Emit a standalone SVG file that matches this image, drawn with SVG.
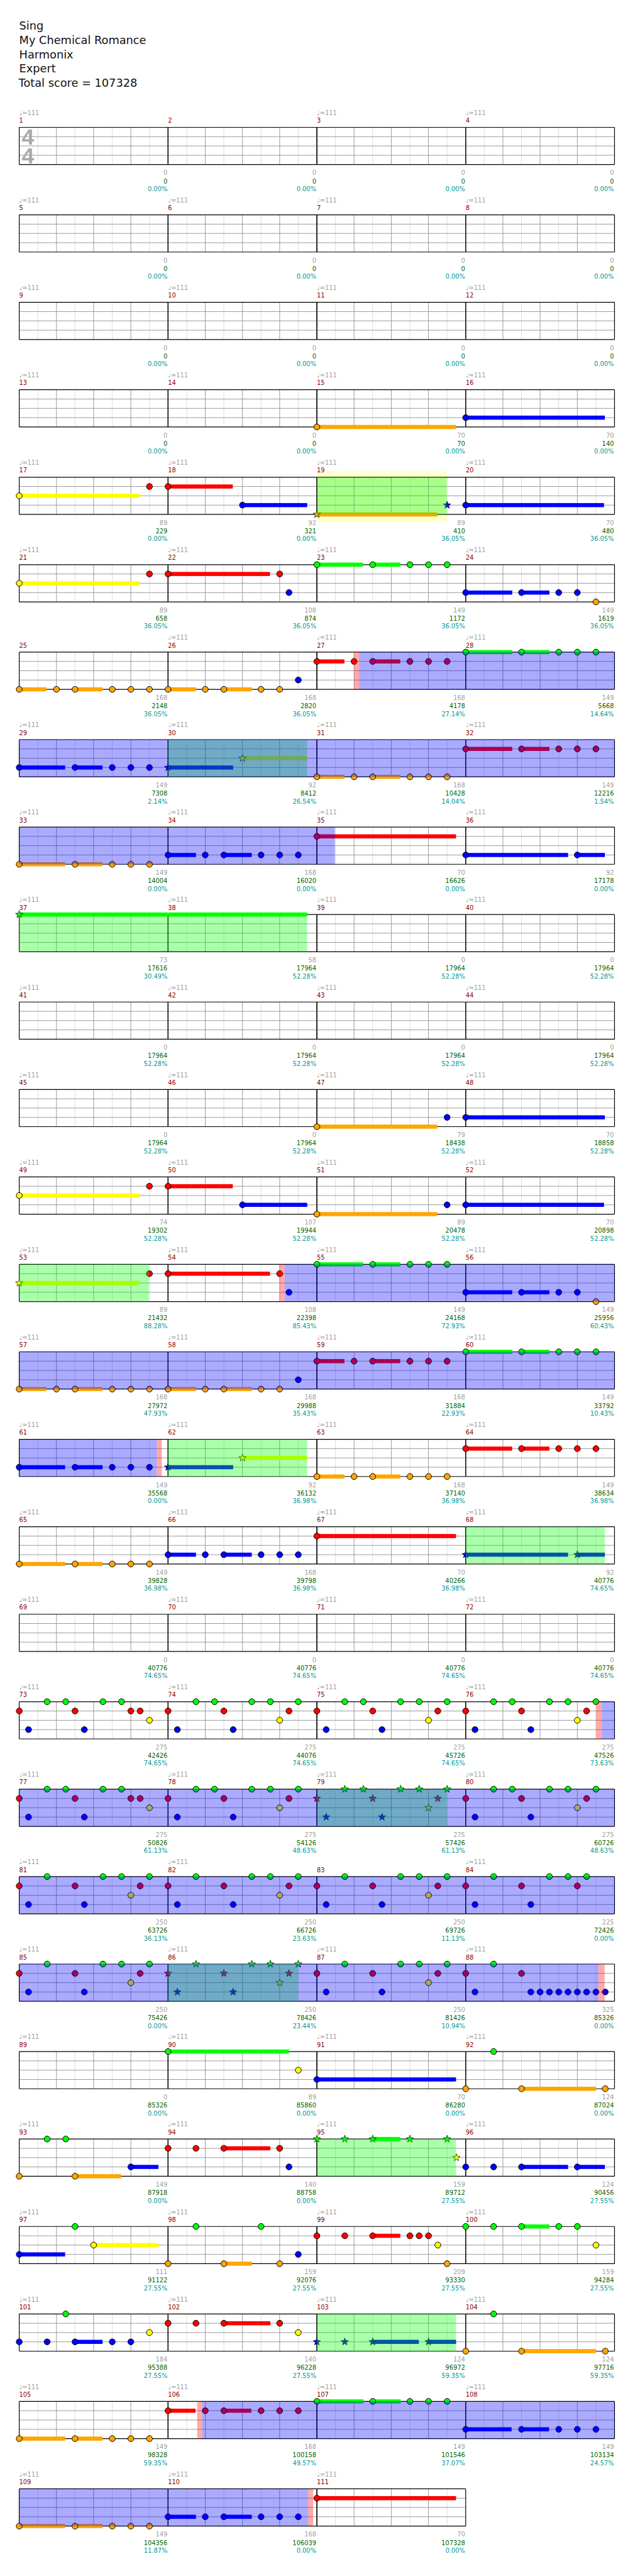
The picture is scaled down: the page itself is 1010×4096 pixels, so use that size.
<svg xmlns="http://www.w3.org/2000/svg" width="1010" height="4096" viewBox="0 0 1010 4096">
<defs>
<style>
text{font-family:"DejaVu Sans",sans-serif;font-size:10px}
.hd{font-size:18px;fill:#111}
.ts{font-family:"Liberation Sans",sans-serif;font-size:36px;font-weight:bold;fill:#aaaaaa}
.t{fill:#a0a0a0}
.mn{fill:#8b0000}
.g{fill:#a0a0a0;text-anchor:end}
.s{fill:#006400;text-anchor:end}
.p{fill:#009999;text-anchor:end}
.kG{fill:#00ff00}.kR{fill:#ff0000}.kY{fill:#ffff00}.kB{fill:#0000ff}.kO{fill:#ffa500}
.sp{fill:#00ff00;fill-opacity:.333}
.od{fill:#0000ff;fill-opacity:.333}
.pk{fill:#ff0000;fill-opacity:.333}
.yb{fill:#ffffcc}
</style>
<g id="M">
<path d="M30 0V60M90 0V60M150 0V60M210 0V60" stroke="#dddddd" stroke-width="1"/>
<path d="M60 0V60M120 0V60M180 0V60M0 15H240M0 30H240M0 45H240" stroke="#999999" stroke-width="1"/>
<path d="M0 0V60M240 0V60M0 0H240M0 60H240" stroke="#000" stroke-width="1.2" fill="none"/>
</g>
<circle id="n" r="4.8" stroke="#000" stroke-width="1"/>
<path id="st" d="M0,-6.3L1.53,-2.1L6,-1.95L2.48,0.81L3.7,5.1L0,2.6L-3.7,5.1L-2.48,0.81L-6,-1.95L-1.53,-2.1Z" stroke="#000" stroke-width="0.7"/>
</defs>
<rect width="1010" height="4096" fill="#fff"/>
<g transform="scale(0.98633)">
<g id="header">
<text class="hd" x="31" y="48">Sing</text>
<text class="hd" x="31" y="71">My Chemical Romance</text>
<text class="hd" x="31" y="94">Harmonix</text>
<text class="hd" x="31" y="117">Expert</text>
<text class="hd" x="30" y="140">Total score = 107328</text>
</g>

<!-- Row 1 -->
<g id="row1" transform="translate(0,205.3)">
<g id="m1" transform="translate(31,0)"><use href="#M"/><text class="ts"><tspan x="4" y="28">4</tspan><tspan x="4" y="58">4</tspan></text><text class="t" y="-20">♩=111</text><text class="mn" y="-7.5">1</text><text class="g" x="239" y="77">0</text><text class="s" x="239" y="90.3">0</text><text class="p" x="239" y="103">0.00%</text></g>
<g id="m2" transform="translate(271,0)"><use href="#M"/><text class="mn" y="-7.5">2</text><text class="g" x="239" y="77">0</text><text class="s" x="239" y="90.3">0</text><text class="p" x="239" y="103">0.00%</text></g>
<g id="m3" transform="translate(511,0)"><use href="#M"/><text class="t" y="-20">♩=111</text><text class="mn" y="-7.5">3</text><text class="g" x="239" y="77">0</text><text class="s" x="239" y="90.3">0</text><text class="p" x="239" y="103">0.00%</text></g>
<g id="m4" transform="translate(751,0)"><use href="#M"/><text class="t" y="-20">♩=111</text><text class="mn" y="-7.5">4</text><text class="g" x="239" y="77">0</text><text class="s" x="239" y="90.3">0</text><text class="p" x="239" y="103">0.00%</text></g>
</g>

<!-- Row 2 -->
<g id="row2" transform="translate(0,346.3)">
<g id="m5" transform="translate(31,0)"><use href="#M"/><text class="t" y="-20">♩=111</text><text class="mn" y="-7.5">5</text><text class="g" x="239" y="77">0</text><text class="s" x="239" y="90.3">0</text><text class="p" x="239" y="103">0.00%</text></g>
<g id="m6" transform="translate(271,0)"><use href="#M"/><text class="t" y="-20">♩=111</text><text class="mn" y="-7.5">6</text><text class="g" x="239" y="77">0</text><text class="s" x="239" y="90.3">0</text><text class="p" x="239" y="103">0.00%</text></g>
<g id="m7" transform="translate(511,0)"><use href="#M"/><text class="t" y="-20">♩=111</text><text class="mn" y="-7.5">7</text><text class="g" x="239" y="77">0</text><text class="s" x="239" y="90.3">0</text><text class="p" x="239" y="103">0.00%</text></g>
<g id="m8" transform="translate(751,0)"><use href="#M"/><text class="t" y="-20">♩=111</text><text class="mn" y="-7.5">8</text><text class="g" x="239" y="77">0</text><text class="s" x="239" y="90.3">0</text><text class="p" x="239" y="103">0.00%</text></g>
</g>

<!-- Row 3 -->
<g id="row3" transform="translate(0,487.3)">
<g id="m9" transform="translate(31,0)"><use href="#M"/><text class="t" y="-20">♩=111</text><text class="mn" y="-7.5">9</text><text class="g" x="239" y="77">0</text><text class="s" x="239" y="90.3">0</text><text class="p" x="239" y="103">0.00%</text></g>
<g id="m10" transform="translate(271,0)"><use href="#M"/><text class="t" y="-20">♩=111</text><text class="mn" y="-7.5">10</text><text class="g" x="239" y="77">0</text><text class="s" x="239" y="90.3">0</text><text class="p" x="239" y="103">0.00%</text></g>
<g id="m11" transform="translate(511,0)"><use href="#M"/><text class="t" y="-20">♩=111</text><text class="mn" y="-7.5">11</text><text class="g" x="239" y="77">0</text><text class="s" x="239" y="90.3">0</text><text class="p" x="239" y="103">0.00%</text></g>
<g id="m12" transform="translate(751,0)"><use href="#M"/><text class="t" y="-20">♩=111</text><text class="mn" y="-7.5">12</text><text class="g" x="239" y="77">0</text><text class="s" x="239" y="90.3">0</text><text class="p" x="239" y="103">0.00%</text></g>
</g>

<!-- Row 4 -->
<g id="row4" transform="translate(0,628.3)">
<g id="m13" transform="translate(31,0)"><use href="#M"/><text class="t" y="-20">♩=111</text><text class="mn" y="-7.5">13</text><text class="g" x="239" y="77">0</text><text class="s" x="239" y="90.3">0</text><text class="p" x="239" y="103">0.00%</text></g>
<g id="m14" transform="translate(271,0)"><use href="#M"/><text class="t" y="-20">♩=111</text><text class="mn" y="-7.5">14</text><text class="g" x="239" y="77">0</text><text class="s" x="239" y="90.3">0</text><text class="p" x="239" y="103">0.00%</text></g>
<g id="m15" transform="translate(511,0)"><use href="#M"/><text class="t" y="-20">♩=111</text><text class="mn" y="-7.5">15</text><text class="g" x="239" y="77">70</text><text class="s" x="239" y="90.3">70</text><text class="p" x="239" y="103">0.00%</text></g>
<g id="m16" transform="translate(751,0)"><use href="#M"/><text class="t" y="-20">♩=111</text><text class="mn" y="-7.5">16</text><text class="g" x="239" y="77">70</text><text class="s" x="239" y="90.3">140</text><text class="p" x="239" y="103">0.00%</text></g>
<g id="n4">
<g transform="translate(511,0)"><rect class="kO" y="56.7" width="224.4" height="6.6"/><use href="#n" class="kO" y="60"/></g>
<g transform="translate(751,0)"><rect class="kB" y="41.7" width="224.4" height="6.6"/><use href="#n" class="kB" y="45"/></g>
</g>
</g>

<!-- Row 5 -->
<g id="row5" transform="translate(0,769.3)">
<rect class="yb" x="511" y="-10" width="209.4" height="82"/>
<g id="m17" transform="translate(31,0)"><use href="#M"/><text class="t" y="-20">♩=111</text><text class="mn" y="-7.5">17</text><text class="g" x="239" y="77">89</text><text class="s" x="239" y="90.3">229</text><text class="p" x="239" y="103">0.00%</text></g>
<g id="m18" transform="translate(271,0)"><use href="#M"/><text class="t" y="-20">♩=111</text><text class="mn" y="-7.5">18</text><text class="g" x="239" y="77">92</text><text class="s" x="239" y="90.3">321</text><text class="p" x="239" y="103">0.00%</text></g>
<g id="m19" transform="translate(511,0)"><use href="#M"/><text class="t" y="-20">♩=111</text><text class="mn" y="-7.5">19</text><text class="g" x="239" y="77">89</text><text class="s" x="239" y="90.3">410</text><text class="p" x="239" y="103">36.05%</text></g>
<g id="m20" transform="translate(751,0)"><use href="#M"/><text class="t" y="-20">♩=111</text><text class="mn" y="-7.5">20</text><text class="g" x="239" y="77">70</text><text class="s" x="239" y="90.3">480</text><text class="p" x="239" y="103">36.05%</text></g>
<g id="n5">
<g transform="translate(31,0)"><rect class="kY" y="26.7" width="194.4" height="6.6"/><use href="#n" class="kY" y="30"/><use href="#n" class="kR" x="210" y="15"/></g>
<g transform="translate(271,0)"><rect class="kR" y="11.7" width="104.4" height="6.6"/><rect class="kB" x="120" y="41.7" width="104.4" height="6.6"/><use href="#n" class="kR" y="15"/><use href="#n" class="kB" x="120" y="45"/></g>
<g transform="translate(511,0)"><rect class="kO" y="56.7" width="194" height="6.6"/><use href="#st" class="kO" y="60"/><use href="#st" class="kB" x="210" y="45"/></g>
<g transform="translate(751,0)"><rect class="kB" y="41.7" width="223" height="6.6"/><use href="#n" class="kB" y="45"/></g>
</g>
<g id="h5"><rect class="sp" x="511" width="209.4" height="60"/></g>
</g>

<!-- Row 6 -->
<g id="row6" transform="translate(0,910.3)">
<g id="m21" transform="translate(31,0)"><use href="#M"/><text class="t" y="-20">♩=111</text><text class="mn" y="-7.5">21</text><text class="g" x="239" y="77">89</text><text class="s" x="239" y="90.3">658</text><text class="p" x="239" y="103">36.05%</text></g>
<g id="m22" transform="translate(271,0)"><use href="#M"/><text class="t" y="-20">♩=111</text><text class="mn" y="-7.5">22</text><text class="g" x="239" y="77">108</text><text class="s" x="239" y="90.3">874</text><text class="p" x="239" y="103">36.05%</text></g>
<g id="m23" transform="translate(511,0)"><use href="#M"/><text class="t" y="-20">♩=111</text><text class="mn" y="-7.5">23</text><text class="g" x="239" y="77">149</text><text class="s" x="239" y="90.3">1172</text><text class="p" x="239" y="103">36.05%</text></g>
<g id="m24" transform="translate(751,0)"><use href="#M"/><text class="t" y="-20">♩=111</text><text class="mn" y="-7.5">24</text><text class="g" x="239" y="77">149</text><text class="s" x="239" y="90.3">1619</text><text class="p" x="239" y="103">36.05%</text></g>
<g id="n6">
<g transform="translate(31,0)"><rect class="kY" y="26.7" width="194" height="6.6"/><use href="#n" class="kY" y="30"/><use href="#n" class="kR" x="210" y="15"/></g>
<g transform="translate(271,0)"><rect class="kR" y="11.7" width="164.4" height="6.6"/><use href="#n" class="kR" y="15"/><use href="#n" class="kR" x="180" y="15"/><use href="#n" class="kB" x="195" y="45"/></g>
<g transform="translate(511,0)"><rect class="kG" y="-3.3" width="74.4" height="6.6"/><rect class="kG" x="90" y="-3.3" width="44.4" height="6.6"/><use href="#n" class="kG"/><use href="#n" class="kG" x="90"/><use href="#n" class="kG" x="150"/><use href="#n" class="kG" x="180"/><use href="#n" class="kG" x="210"/></g>
<g transform="translate(751,0)"><rect class="kB" y="41.7" width="75" height="6.6"/><rect class="kB" x="90" y="41.7" width="45" height="6.6"/><use href="#n" class="kB" y="45"/><use href="#n" class="kB" x="90" y="45"/><use href="#n" class="kB" x="150" y="45"/><use href="#n" class="kB" x="180" y="45"/><use href="#n" class="kO" x="210" y="60"/></g>
</g>
</g>

<!-- Row 7 -->
<g id="row7" transform="translate(0,1051.3)">
<g id="m25" transform="translate(31,0)"><use href="#M"/><text class="mn" y="-7.5">25</text><text class="g" x="239" y="77">168</text><text class="s" x="239" y="90.3">2148</text><text class="p" x="239" y="103">36.05%</text></g>
<g id="m26" transform="translate(271,0)"><use href="#M"/><text class="t" y="-20">♩=111</text><text class="mn" y="-7.5">26</text><text class="g" x="239" y="77">168</text><text class="s" x="239" y="90.3">2820</text><text class="p" x="239" y="103">36.05%</text></g>
<g id="m27" transform="translate(511,0)"><use href="#M"/><text class="t" y="-20">♩=111</text><text class="mn" y="-7.5">27</text><text class="g" x="239" y="77">168</text><text class="s" x="239" y="90.3">4178</text><text class="p" x="239" y="103">27.14%</text></g>
<g id="m28" transform="translate(751,0)"><use href="#M"/><text class="t" y="-20">♩=111</text><text class="mn" y="-7.5">28</text><text class="g" x="239" y="77">149</text><text class="s" x="239" y="90.3">5668</text><text class="p" x="239" y="103">14.64%</text></g>
<g id="n7">
<g transform="translate(31,0)"><rect class="kO" y="56.7" width="44" height="6.6"/><rect class="kO" x="90" y="56.7" width="44.4" height="6.6"/><use href="#n" class="kO" y="60"/><use href="#n" class="kO" x="60" y="60"/><use href="#n" class="kO" x="90" y="60"/><use href="#n" class="kO" x="150" y="60"/><use href="#n" class="kO" x="180" y="60"/><use href="#n" class="kO" x="210" y="60"/></g>
<g transform="translate(271,0)"><rect class="kO" y="56.7" width="45" height="6.6"/><rect class="kO" x="90" y="56.7" width="45" height="6.6"/><use href="#n" class="kO" y="60"/><use href="#n" class="kO" x="60" y="60"/><use href="#n" class="kO" x="90" y="60"/><use href="#n" class="kO" x="150" y="60"/><use href="#n" class="kO" x="180" y="60"/><use href="#n" class="kB" x="210" y="45"/></g>
<g transform="translate(511,0)"><rect class="kR" y="11.7" width="44.4" height="6.6"/><rect class="kR" x="90" y="11.7" width="44.4" height="6.6"/><use href="#n" class="kR" y="15"/><use href="#n" class="kR" x="60" y="15"/><use href="#n" class="kR" x="90" y="15"/><use href="#n" class="kR" x="150" y="15"/><use href="#n" class="kR" x="180" y="15"/><use href="#n" class="kR" x="210" y="15"/></g>
<g transform="translate(751,0)"><rect class="kG" y="-3.3" width="75" height="6.6"/><rect class="kG" x="90" y="-3.3" width="45" height="6.6"/><use href="#n" class="kG"/><use href="#n" class="kG" x="90"/><use href="#n" class="kG" x="150"/><use href="#n" class="kG" x="180"/><use href="#n" class="kG" x="210"/></g>
</g>
<g id="h7"><rect class="pk" x="571" width="8" height="60"/><rect class="od" x="579" width="412" height="60"/></g>
</g>

<!-- Row 8 -->
<g id="row8" transform="translate(0,1192.3)">
<g id="m29" transform="translate(31,0)"><use href="#M"/><text class="t" y="-20">♩=111</text><text class="mn" y="-7.5">29</text><text class="g" x="239" y="77">149</text><text class="s" x="239" y="90.3">7308</text><text class="p" x="239" y="103">2.14%</text></g>
<g id="m30" transform="translate(271,0)"><use href="#M"/><text class="t" y="-20">♩=111</text><text class="mn" y="-7.5">30</text><text class="g" x="239" y="77">92</text><text class="s" x="239" y="90.3">8412</text><text class="p" x="239" y="103">26.54%</text></g>
<g id="m31" transform="translate(511,0)"><use href="#M"/><text class="t" y="-20">♩=111</text><text class="mn" y="-7.5">31</text><text class="g" x="239" y="77">168</text><text class="s" x="239" y="90.3">10428</text><text class="p" x="239" y="103">14.04%</text></g>
<g id="m32" transform="translate(751,0)"><use href="#M"/><text class="t" y="-20">♩=111</text><text class="mn" y="-7.5">32</text><text class="g" x="239" y="77">149</text><text class="s" x="239" y="90.3">12216</text><text class="p" x="239" y="103">1.54%</text></g>
<g id="n8">
<g transform="translate(31,0)"><rect class="kB" y="41.7" width="74" height="6.6"/><rect class="kB" x="90" y="41.7" width="44.4" height="6.6"/><use href="#n" class="kB" y="45"/><use href="#n" class="kB" x="90" y="45"/><use href="#n" class="kB" x="150" y="45"/><use href="#n" class="kB" x="180" y="45"/><use href="#n" class="kB" x="210" y="45"/></g>
<g transform="translate(271,0)"><rect class="kB" y="41.7" width="105" height="6.6"/><rect class="kY" x="120" y="26.7" width="104.4" height="6.6"/><use href="#st" class="kB" y="45"/><use href="#st" class="kY" x="120" y="30"/></g>
<g transform="translate(511,0)"><rect class="kO" y="56.7" width="44.4" height="6.6"/><rect class="kO" x="90" y="56.7" width="44.4" height="6.6"/><use href="#n" class="kO" y="60"/><use href="#n" class="kO" x="60" y="60"/><use href="#n" class="kO" x="90" y="60"/><use href="#n" class="kO" x="150" y="60"/><use href="#n" class="kO" x="180" y="60"/><use href="#n" class="kO" x="210" y="60"/></g>
<g transform="translate(751,0)"><rect class="kR" y="11.7" width="75" height="6.6"/><rect class="kR" x="90" y="11.7" width="45" height="6.6"/><use href="#n" class="kR" y="15"/><use href="#n" class="kR" x="90" y="15"/><use href="#n" class="kR" x="150" y="15"/><use href="#n" class="kR" x="180" y="15"/><use href="#n" class="kR" x="210" y="15"/></g>
</g>
<g id="h8"><rect class="sp" x="271" width="224.4" height="60"/><rect class="od" x="31" width="960" height="60"/></g>
</g>

<!-- Row 9 -->
<g id="row9" transform="translate(0,1333.3)">
<g id="m33" transform="translate(31,0)"><use href="#M"/><text class="t" y="-20">♩=111</text><text class="mn" y="-7.5">33</text><text class="g" x="239" y="77">149</text><text class="s" x="239" y="90.3">14004</text><text class="p" x="239" y="103">0.00%</text></g>
<g id="m34" transform="translate(271,0)"><use href="#M"/><text class="t" y="-20">♩=111</text><text class="mn" y="-7.5">34</text><text class="g" x="239" y="77">168</text><text class="s" x="239" y="90.3">16020</text><text class="p" x="239" y="103">0.00%</text></g>
<g id="m35" transform="translate(511,0)"><use href="#M"/><text class="t" y="-20">♩=111</text><text class="mn" y="-7.5">35</text><text class="g" x="239" y="77">70</text><text class="s" x="239" y="90.3">16626</text><text class="p" x="239" y="103">0.00%</text></g>
<g id="m36" transform="translate(751,0)"><use href="#M"/><text class="t" y="-20">♩=111</text><text class="mn" y="-7.5">36</text><text class="g" x="239" y="77">92</text><text class="s" x="239" y="90.3">17178</text><text class="p" x="239" y="103">0.00%</text></g>
<g id="n9">
<g transform="translate(31,0)"><rect class="kO" y="56.7" width="74" height="6.6"/><rect class="kO" x="90" y="56.7" width="44.4" height="6.6"/><use href="#n" class="kO" y="60"/><use href="#n" class="kO" x="90" y="60"/><use href="#n" class="kO" x="150" y="60"/><use href="#n" class="kO" x="180" y="60"/><use href="#n" class="kO" x="210" y="60"/></g>
<g transform="translate(271,0)"><rect class="kB" y="41.7" width="45" height="6.6"/><rect class="kB" x="90" y="41.7" width="45" height="6.6"/><use href="#n" class="kB" y="45"/><use href="#n" class="kB" x="60" y="45"/><use href="#n" class="kB" x="90" y="45"/><use href="#n" class="kB" x="150" y="45"/><use href="#n" class="kB" x="180" y="45"/><use href="#n" class="kB" x="210" y="45"/></g>
<g transform="translate(511,0)"><rect class="kR" y="11.7" width="224.4" height="6.6"/><use href="#n" class="kR" y="15"/></g>
<g transform="translate(751,0)"><rect class="kB" y="41.7" width="165" height="6.6"/><rect class="kB" x="180" y="41.7" width="44.4" height="6.6"/><use href="#n" class="kB" y="45"/><use href="#n" class="kB" x="180" y="45"/></g>
</g>
<g id="h9"><rect class="od" x="31" width="509" height="60"/></g>
</g>

<!-- Row 10 -->
<g id="row10" transform="translate(0,1474.3)">
<g id="m37" transform="translate(31,0)"><use href="#M"/><text class="t" y="-20">♩=111</text><text class="mn" y="-7.5">37</text><text class="g" x="239" y="77">73</text><text class="s" x="239" y="90.3">17616</text><text class="p" x="239" y="103">30.49%</text></g>
<g id="m38" transform="translate(271,0)"><use href="#M"/><text class="t" y="-20">♩=111</text><text class="mn" y="-7.5">38</text><text class="g" x="239" y="77">58</text><text class="s" x="239" y="90.3">17964</text><text class="p" x="239" y="103">52.28%</text></g>
<g id="m39" transform="translate(511,0)"><use href="#M"/><text class="t" y="-20">♩=111</text><text class="mn" y="-7.5">39</text><text class="g" x="239" y="77">0</text><text class="s" x="239" y="90.3">17964</text><text class="p" x="239" y="103">52.28%</text></g>
<g id="m40" transform="translate(751,0)"><use href="#M"/><text class="t" y="-20">♩=111</text><text class="mn" y="-7.5">40</text><text class="g" x="239" y="77">0</text><text class="s" x="239" y="90.3">17964</text><text class="p" x="239" y="103">52.28%</text></g>
<g id="n10">
<g transform="translate(31,0)"><rect class="kG" y="-3.3" width="240" height="6.6"/><use href="#st" class="kG"/></g>
<g transform="translate(271,0)"><rect class="kG" y="-3.3" width="224.4" height="6.6"/></g>
</g>
<g id="h10"><rect class="sp" x="31" width="464.4" height="60"/></g>
</g>

<!-- Row 11 -->
<g id="row11" transform="translate(0,1615.3)">
<g id="m41" transform="translate(31,0)"><use href="#M"/><text class="t" y="-20">♩=111</text><text class="mn" y="-7.5">41</text><text class="g" x="239" y="77">0</text><text class="s" x="239" y="90.3">17964</text><text class="p" x="239" y="103">52.28%</text></g>
<g id="m42" transform="translate(271,0)"><use href="#M"/><text class="t" y="-20">♩=111</text><text class="mn" y="-7.5">42</text><text class="g" x="239" y="77">0</text><text class="s" x="239" y="90.3">17964</text><text class="p" x="239" y="103">52.28%</text></g>
<g id="m43" transform="translate(511,0)"><use href="#M"/><text class="t" y="-20">♩=111</text><text class="mn" y="-7.5">43</text><text class="g" x="239" y="77">0</text><text class="s" x="239" y="90.3">17964</text><text class="p" x="239" y="103">52.28%</text></g>
<g id="m44" transform="translate(751,0)"><use href="#M"/><text class="t" y="-20">♩=111</text><text class="mn" y="-7.5">44</text><text class="g" x="239" y="77">0</text><text class="s" x="239" y="90.3">17964</text><text class="p" x="239" y="103">52.28%</text></g>
</g>

<!-- Row 12 -->
<g id="row12" transform="translate(0,1756.3)">
<g id="m45" transform="translate(31,0)"><use href="#M"/><text class="t" y="-20">♩=111</text><text class="mn" y="-7.5">45</text><text class="g" x="239" y="77">0</text><text class="s" x="239" y="90.3">17964</text><text class="p" x="239" y="103">52.28%</text></g>
<g id="m46" transform="translate(271,0)"><use href="#M"/><text class="t" y="-20">♩=111</text><text class="mn" y="-7.5">46</text><text class="g" x="239" y="77">0</text><text class="s" x="239" y="90.3">17964</text><text class="p" x="239" y="103">52.28%</text></g>
<g id="m47" transform="translate(511,0)"><use href="#M"/><text class="t" y="-20">♩=111</text><text class="mn" y="-7.5">47</text><text class="g" x="239" y="77">79</text><text class="s" x="239" y="90.3">18438</text><text class="p" x="239" y="103">52.28%</text></g>
<g id="m48" transform="translate(751,0)"><use href="#M"/><text class="t" y="-20">♩=111</text><text class="mn" y="-7.5">48</text><text class="g" x="239" y="77">70</text><text class="s" x="239" y="90.3">18858</text><text class="p" x="239" y="103">52.28%</text></g>
<g id="n12">
<g transform="translate(511,0)"><rect class="kO" y="56.7" width="194" height="6.6"/><use href="#n" class="kO" y="60"/><use href="#n" class="kB" x="210" y="45"/></g>
<g transform="translate(751,0)"><rect class="kB" y="41.7" width="224.4" height="6.6"/><use href="#n" class="kB" y="45"/></g>
</g>
</g>

<!-- Row 13 -->
<g id="row13" transform="translate(0,1897.3)">
<g id="m49" transform="translate(31,0)"><use href="#M"/><text class="t" y="-20">♩=111</text><text class="mn" y="-7.5">49</text><text class="g" x="239" y="77">74</text><text class="s" x="239" y="90.3">19302</text><text class="p" x="239" y="103">52.28%</text></g>
<g id="m50" transform="translate(271,0)"><use href="#M"/><text class="t" y="-20">♩=111</text><text class="mn" y="-7.5">50</text><text class="g" x="239" y="77">107</text><text class="s" x="239" y="90.3">19944</text><text class="p" x="239" y="103">52.28%</text></g>
<g id="m51" transform="translate(511,0)"><use href="#M"/><text class="t" y="-20">♩=111</text><text class="mn" y="-7.5">51</text><text class="g" x="239" y="77">89</text><text class="s" x="239" y="90.3">20478</text><text class="p" x="239" y="103">52.28%</text></g>
<g id="m52" transform="translate(751,0)"><use href="#M"/><text class="t" y="-20">♩=111</text><text class="mn" y="-7.5">52</text><text class="g" x="239" y="77">70</text><text class="s" x="239" y="90.3">20898</text><text class="p" x="239" y="103">52.28%</text></g>
<g id="n13">
<g transform="translate(31,0)"><rect class="kY" y="26.7" width="194.4" height="6.6"/><use href="#n" class="kY" y="30"/><use href="#n" class="kR" x="210" y="15"/></g>
<g transform="translate(271,0)"><rect class="kR" y="11.7" width="104.4" height="6.6"/><rect class="kB" x="120" y="41.7" width="104.4" height="6.6"/><use href="#n" class="kR" y="15"/><use href="#n" class="kB" x="120" y="45"/></g>
<g transform="translate(511,0)"><rect class="kO" y="56.7" width="194" height="6.6"/><use href="#n" class="kO" y="60"/><use href="#n" class="kB" x="210" y="45"/></g>
<g transform="translate(751,0)"><rect class="kB" y="41.7" width="223" height="6.6"/><use href="#n" class="kB" y="45"/></g>
</g>
</g>

<!-- Row 14 -->
<g id="row14" transform="translate(0,2038.3)">
<g id="m53" transform="translate(31,0)"><use href="#M"/><text class="t" y="-20">♩=111</text><text class="mn" y="-7.5">53</text><text class="g" x="239" y="77">89</text><text class="s" x="239" y="90.3">21432</text><text class="p" x="239" y="103">88.28%</text></g>
<g id="m54" transform="translate(271,0)"><use href="#M"/><text class="t" y="-20">♩=111</text><text class="mn" y="-7.5">54</text><text class="g" x="239" y="77">108</text><text class="s" x="239" y="90.3">22398</text><text class="p" x="239" y="103">85.43%</text></g>
<g id="m55" transform="translate(511,0)"><use href="#M"/><text class="t" y="-20">♩=111</text><text class="mn" y="-7.5">55</text><text class="g" x="239" y="77">149</text><text class="s" x="239" y="90.3">24168</text><text class="p" x="239" y="103">72.93%</text></g>
<g id="m56" transform="translate(751,0)"><use href="#M"/><text class="t" y="-20">♩=111</text><text class="mn" y="-7.5">56</text><text class="g" x="239" y="77">149</text><text class="s" x="239" y="90.3">25956</text><text class="p" x="239" y="103">60.43%</text></g>
<g id="n14">
<g transform="translate(31,0)"><rect class="kY" y="26.7" width="194" height="6.6"/><use href="#st" class="kY" y="30"/><use href="#n" class="kR" x="210" y="15"/></g>
<g transform="translate(271,0)"><rect class="kR" y="11.7" width="164.4" height="6.6"/><use href="#n" class="kR" y="15"/><use href="#n" class="kR" x="180" y="15"/><use href="#n" class="kB" x="195" y="45"/></g>
<g transform="translate(511,0)"><rect class="kG" y="-3.3" width="74.4" height="6.6"/><rect class="kG" x="90" y="-3.3" width="44.4" height="6.6"/><use href="#n" class="kG"/><use href="#n" class="kG" x="90"/><use href="#n" class="kG" x="150"/><use href="#n" class="kG" x="180"/><use href="#n" class="kG" x="210"/></g>
<g transform="translate(751,0)"><rect class="kB" y="41.7" width="75" height="6.6"/><rect class="kB" x="90" y="41.7" width="45" height="6.6"/><use href="#n" class="kB" y="45"/><use href="#n" class="kB" x="90" y="45"/><use href="#n" class="kB" x="150" y="45"/><use href="#n" class="kB" x="180" y="45"/><use href="#n" class="kO" x="210" y="60"/></g>
</g>
<g id="h14"><rect class="sp" x="31" width="209" height="60"/><rect class="pk" x="451" width="8" height="60"/><rect class="od" x="459" width="532" height="60"/></g>
</g>

<!-- Row 15 -->
<g id="row15" transform="translate(0,2179.3)">
<g id="m57" transform="translate(31,0)"><use href="#M"/><text class="t" y="-20">♩=111</text><text class="mn" y="-7.5">57</text><text class="g" x="239" y="77">168</text><text class="s" x="239" y="90.3">27972</text><text class="p" x="239" y="103">47.93%</text></g>
<g id="m58" transform="translate(271,0)"><use href="#M"/><text class="t" y="-20">♩=111</text><text class="mn" y="-7.5">58</text><text class="g" x="239" y="77">168</text><text class="s" x="239" y="90.3">29988</text><text class="p" x="239" y="103">35.43%</text></g>
<g id="m59" transform="translate(511,0)"><use href="#M"/><text class="t" y="-20">♩=111</text><text class="mn" y="-7.5">59</text><text class="g" x="239" y="77">168</text><text class="s" x="239" y="90.3">31884</text><text class="p" x="239" y="103">22.93%</text></g>
<g id="m60" transform="translate(751,0)"><use href="#M"/><text class="t" y="-20">♩=111</text><text class="mn" y="-7.5">60</text><text class="g" x="239" y="77">149</text><text class="s" x="239" y="90.3">33792</text><text class="p" x="239" y="103">10.43%</text></g>
<g id="n15">
<g transform="translate(31,0)"><rect class="kO" y="56.7" width="44" height="6.6"/><rect class="kO" x="90" y="56.7" width="44.4" height="6.6"/><use href="#n" class="kO" y="60"/><use href="#n" class="kO" x="60" y="60"/><use href="#n" class="kO" x="90" y="60"/><use href="#n" class="kO" x="150" y="60"/><use href="#n" class="kO" x="180" y="60"/><use href="#n" class="kO" x="210" y="60"/></g>
<g transform="translate(271,0)"><rect class="kO" y="56.7" width="45" height="6.6"/><rect class="kO" x="90" y="56.7" width="45" height="6.6"/><use href="#n" class="kO" y="60"/><use href="#n" class="kO" x="60" y="60"/><use href="#n" class="kO" x="90" y="60"/><use href="#n" class="kO" x="150" y="60"/><use href="#n" class="kO" x="180" y="60"/><use href="#n" class="kB" x="210" y="45"/></g>
<g transform="translate(511,0)"><rect class="kR" y="11.7" width="44.4" height="6.6"/><rect class="kR" x="90" y="11.7" width="44.4" height="6.6"/><use href="#n" class="kR" y="15"/><use href="#n" class="kR" x="60" y="15"/><use href="#n" class="kR" x="90" y="15"/><use href="#n" class="kR" x="150" y="15"/><use href="#n" class="kR" x="180" y="15"/><use href="#n" class="kR" x="210" y="15"/></g>
<g transform="translate(751,0)"><rect class="kG" y="-3.3" width="75" height="6.6"/><rect class="kG" x="90" y="-3.3" width="45" height="6.6"/><use href="#n" class="kG"/><use href="#n" class="kG" x="90"/><use href="#n" class="kG" x="150"/><use href="#n" class="kG" x="180"/><use href="#n" class="kG" x="210"/></g>
</g>
<g id="h15"><rect class="od" x="31" width="960" height="60"/></g>
</g>

<!-- Row 16 -->
<g id="row16" transform="translate(0,2320.3)">
<g id="m61" transform="translate(31,0)"><use href="#M"/><text class="t" y="-20">♩=111</text><text class="mn" y="-7.5">61</text><text class="g" x="239" y="77">149</text><text class="s" x="239" y="90.3">35568</text><text class="p" x="239" y="103">0.00%</text></g>
<g id="m62" transform="translate(271,0)"><use href="#M"/><text class="t" y="-20">♩=111</text><text class="mn" y="-7.5">62</text><text class="g" x="239" y="77">92</text><text class="s" x="239" y="90.3">36132</text><text class="p" x="239" y="103">36.98%</text></g>
<g id="m63" transform="translate(511,0)"><use href="#M"/><text class="t" y="-20">♩=111</text><text class="mn" y="-7.5">63</text><text class="g" x="239" y="77">168</text><text class="s" x="239" y="90.3">37140</text><text class="p" x="239" y="103">36.98%</text></g>
<g id="m64" transform="translate(751,0)"><use href="#M"/><text class="t" y="-20">♩=111</text><text class="mn" y="-7.5">64</text><text class="g" x="239" y="77">149</text><text class="s" x="239" y="90.3">38634</text><text class="p" x="239" y="103">36.98%</text></g>
<g id="n16">
<g transform="translate(31,0)"><rect class="kB" y="41.7" width="74" height="6.6"/><rect class="kB" x="90" y="41.7" width="44.4" height="6.6"/><use href="#n" class="kB" y="45"/><use href="#n" class="kB" x="90" y="45"/><use href="#n" class="kB" x="150" y="45"/><use href="#n" class="kB" x="180" y="45"/><use href="#n" class="kB" x="210" y="45"/></g>
<g transform="translate(271,0)"><rect class="kB" y="41.7" width="105" height="6.6"/><rect class="kY" x="120" y="26.7" width="104.4" height="6.6"/><use href="#st" class="kB" y="45"/><use href="#st" class="kY" x="120" y="30"/></g>
<g transform="translate(511,0)"><rect class="kO" y="56.7" width="44.4" height="6.6"/><rect class="kO" x="90" y="56.7" width="44.4" height="6.6"/><use href="#n" class="kO" y="60"/><use href="#n" class="kO" x="60" y="60"/><use href="#n" class="kO" x="90" y="60"/><use href="#n" class="kO" x="150" y="60"/><use href="#n" class="kO" x="180" y="60"/><use href="#n" class="kO" x="210" y="60"/></g>
<g transform="translate(751,0)"><rect class="kR" y="11.7" width="75" height="6.6"/><rect class="kR" x="90" y="11.7" width="45" height="6.6"/><use href="#n" class="kR" y="15"/><use href="#n" class="kR" x="90" y="15"/><use href="#n" class="kR" x="150" y="15"/><use href="#n" class="kR" x="180" y="15"/><use href="#n" class="kR" x="210" y="15"/></g>
</g>
<g id="h16"><rect class="od" x="31" width="222" height="60"/><rect class="pk" x="253" width="8" height="60"/><rect class="sp" x="271" width="224.4" height="60"/></g>
</g>

<!-- Row 17 -->
<g id="row17" transform="translate(0,2461.3)">
<g id="m65" transform="translate(31,0)"><use href="#M"/><text class="t" y="-20">♩=111</text><text class="mn" y="-7.5">65</text><text class="g" x="239" y="77">149</text><text class="s" x="239" y="90.3">39828</text><text class="p" x="239" y="103">36.98%</text></g>
<g id="m66" transform="translate(271,0)"><use href="#M"/><text class="t" y="-20">♩=111</text><text class="mn" y="-7.5">66</text><text class="g" x="239" y="77">168</text><text class="s" x="239" y="90.3">39798</text><text class="p" x="239" y="103">36.98%</text></g>
<g id="m67" transform="translate(511,0)"><use href="#M"/><text class="t" y="-20">♩=111</text><text class="mn" y="-7.5">67</text><text class="g" x="239" y="77">70</text><text class="s" x="239" y="90.3">40266</text><text class="p" x="239" y="103">36.98%</text></g>
<g id="m68" transform="translate(751,0)"><use href="#M"/><text class="t" y="-20">♩=111</text><text class="mn" y="-7.5">68</text><text class="g" x="239" y="77">92</text><text class="s" x="239" y="90.3">40776</text><text class="p" x="239" y="103">74.65%</text></g>
<g id="n17">
<g transform="translate(31,0)"><rect class="kO" y="56.7" width="74" height="6.6"/><rect class="kO" x="90" y="56.7" width="44.4" height="6.6"/><use href="#n" class="kO" y="60"/><use href="#n" class="kO" x="90" y="60"/><use href="#n" class="kO" x="150" y="60"/><use href="#n" class="kO" x="180" y="60"/><use href="#n" class="kO" x="210" y="60"/></g>
<g transform="translate(271,0)"><rect class="kB" y="41.7" width="45" height="6.6"/><rect class="kB" x="90" y="41.7" width="45" height="6.6"/><use href="#n" class="kB" y="45"/><use href="#n" class="kB" x="60" y="45"/><use href="#n" class="kB" x="90" y="45"/><use href="#n" class="kB" x="150" y="45"/><use href="#n" class="kB" x="180" y="45"/><use href="#n" class="kB" x="210" y="45"/></g>
<g transform="translate(511,0)"><rect class="kR" y="11.7" width="224.4" height="6.6"/><use href="#n" class="kR" y="15"/></g>
<g transform="translate(751,0)"><rect class="kB" y="41.7" width="165" height="6.6"/><rect class="kB" x="180" y="41.7" width="44.4" height="6.6"/><use href="#st" class="kB" y="45"/><use href="#st" class="kB" x="180" y="45"/></g>
</g>
<g id="h17"><rect class="sp" x="751" width="224.4" height="60"/></g>
</g>

<!-- Row 18 -->
<g id="row18" transform="translate(0,2602.3)">
<g id="m69" transform="translate(31,0)"><use href="#M"/><text class="t" y="-20">♩=111</text><text class="mn" y="-7.5">69</text><text class="g" x="239" y="77">0</text><text class="s" x="239" y="90.3">40776</text><text class="p" x="239" y="103">74.65%</text></g>
<g id="m70" transform="translate(271,0)"><use href="#M"/><text class="t" y="-20">♩=111</text><text class="mn" y="-7.5">70</text><text class="g" x="239" y="77">0</text><text class="s" x="239" y="90.3">40776</text><text class="p" x="239" y="103">74.65%</text></g>
<g id="m71" transform="translate(511,0)"><use href="#M"/><text class="t" y="-20">♩=111</text><text class="mn" y="-7.5">71</text><text class="g" x="239" y="77">0</text><text class="s" x="239" y="90.3">40776</text><text class="p" x="239" y="103">74.65%</text></g>
<g id="m72" transform="translate(751,0)"><use href="#M"/><text class="t" y="-20">♩=111</text><text class="mn" y="-7.5">72</text><text class="g" x="239" y="77">0</text><text class="s" x="239" y="90.3">40776</text><text class="p" x="239" y="103">74.65%</text></g>
</g>

<!-- Row 19 -->
<g id="row19" transform="translate(0,2743.3)">
<g id="m73" transform="translate(31,0)"><use href="#M"/><text class="t" y="-20">♩=111</text><text class="mn" y="-7.5">73</text><text class="g" x="239" y="77">275</text><text class="s" x="239" y="90.3">42426</text><text class="p" x="239" y="103">74.65%</text></g>
<g id="m74" transform="translate(271,0)"><use href="#M"/><text class="t" y="-20">♩=111</text><text class="mn" y="-7.5">74</text><text class="g" x="239" y="77">275</text><text class="s" x="239" y="90.3">44076</text><text class="p" x="239" y="103">74.65%</text></g>
<g id="m75" transform="translate(511,0)"><use href="#M"/><text class="t" y="-20">♩=111</text><text class="mn" y="-7.5">75</text><text class="g" x="239" y="77">275</text><text class="s" x="239" y="90.3">45726</text><text class="p" x="239" y="103">74.65%</text></g>
<g id="m76" transform="translate(751,0)"><use href="#M"/><text class="t" y="-20">♩=111</text><text class="mn" y="-7.5">76</text><text class="g" x="239" y="77">275</text><text class="s" x="239" y="90.3">47526</text><text class="p" x="239" y="103">73.63%</text></g>
<g id="n19">
<g transform="translate(31,0)"><use href="#n" class="kR" y="15"/><use href="#n" class="kB" x="15" y="45"/><use href="#n" class="kG" x="45"/><use href="#n" class="kG" x="75"/><use href="#n" class="kR" x="90" y="15"/><use href="#n" class="kB" x="105" y="45"/><use href="#n" class="kG" x="135"/><use href="#n" class="kG" x="165"/><use href="#n" class="kR" x="180" y="15"/><use href="#n" class="kR" x="195" y="15"/><use href="#n" class="kY" x="210" y="30"/></g>
<g transform="translate(271,0)"><use href="#n" class="kR" y="15"/><use href="#n" class="kB" x="15" y="45"/><use href="#n" class="kG" x="45"/><use href="#n" class="kG" x="75"/><use href="#n" class="kR" x="90" y="15"/><use href="#n" class="kB" x="105" y="45"/><use href="#n" class="kG" x="135"/><use href="#n" class="kG" x="165"/><use href="#n" class="kY" x="180" y="30"/><use href="#n" class="kR" x="195" y="15"/><use href="#n" class="kG" x="210"/></g>
<g transform="translate(511,0)"><use href="#n" class="kR" y="15"/><use href="#n" class="kB" x="15" y="45"/><use href="#n" class="kG" x="45"/><use href="#n" class="kG" x="75"/><use href="#n" class="kR" x="90" y="15"/><use href="#n" class="kB" x="105" y="45"/><use href="#n" class="kG" x="135"/><use href="#n" class="kG" x="165"/><use href="#n" class="kY" x="180" y="30"/><use href="#n" class="kR" x="195" y="15"/><use href="#n" class="kG" x="210"/></g>
<g transform="translate(751,0)"><use href="#n" class="kR" y="15"/><use href="#n" class="kB" x="15" y="45"/><use href="#n" class="kG" x="45"/><use href="#n" class="kG" x="75"/><use href="#n" class="kR" x="90" y="15"/><use href="#n" class="kB" x="105" y="45"/><use href="#n" class="kG" x="135"/><use href="#n" class="kG" x="165"/><use href="#n" class="kY" x="180" y="30"/><use href="#n" class="kR" x="195" y="15"/><use href="#n" class="kG" x="210"/></g>
</g>
<g id="h19"><rect class="pk" x="961" width="9.6" height="60"/><rect class="od" x="970.6" width="20.4" height="60"/></g>
</g>

<!-- Row 20 -->
<g id="row20" transform="translate(0,2884.3)">
<g id="m77" transform="translate(31,0)"><use href="#M"/><text class="t" y="-20">♩=111</text><text class="mn" y="-7.5">77</text><text class="g" x="239" y="77">275</text><text class="s" x="239" y="90.3">50826</text><text class="p" x="239" y="103">61.13%</text></g>
<g id="m78" transform="translate(271,0)"><use href="#M"/><text class="t" y="-20">♩=111</text><text class="mn" y="-7.5">78</text><text class="g" x="239" y="77">275</text><text class="s" x="239" y="90.3">54126</text><text class="p" x="239" y="103">48.63%</text></g>
<g id="m79" transform="translate(511,0)"><use href="#M"/><text class="t" y="-20">♩=111</text><text class="mn" y="-7.5">79</text><text class="g" x="239" y="77">275</text><text class="s" x="239" y="90.3">57426</text><text class="p" x="239" y="103">61.13%</text></g>
<g id="m80" transform="translate(751,0)"><use href="#M"/><text class="t" y="-20">♩=111</text><text class="mn" y="-7.5">80</text><text class="g" x="239" y="77">275</text><text class="s" x="239" y="90.3">60726</text><text class="p" x="239" y="103">48.63%</text></g>
<g id="n20">
<g transform="translate(31,0)"><use href="#n" class="kR" y="15"/><use href="#n" class="kB" x="15" y="45"/><use href="#n" class="kG" x="45"/><use href="#n" class="kG" x="75"/><use href="#n" class="kR" x="90" y="15"/><use href="#n" class="kB" x="105" y="45"/><use href="#n" class="kG" x="135"/><use href="#n" class="kG" x="165"/><use href="#n" class="kR" x="180" y="15"/><use href="#n" class="kR" x="195" y="15"/><use href="#n" class="kY" x="210" y="30"/></g>
<g transform="translate(271,0)"><use href="#n" class="kR" y="15"/><use href="#n" class="kB" x="15" y="45"/><use href="#n" class="kG" x="45"/><use href="#n" class="kG" x="75"/><use href="#n" class="kR" x="90" y="15"/><use href="#n" class="kB" x="105" y="45"/><use href="#n" class="kG" x="135"/><use href="#n" class="kG" x="165"/><use href="#n" class="kY" x="180" y="30"/><use href="#n" class="kR" x="195" y="15"/><use href="#n" class="kG" x="210"/></g>
<g transform="translate(511,0)"><use href="#st" class="kR" y="15"/><use href="#st" class="kB" x="15" y="45"/><use href="#st" class="kG" x="45"/><use href="#st" class="kG" x="75"/><use href="#st" class="kR" x="90" y="15"/><use href="#st" class="kB" x="105" y="45"/><use href="#st" class="kG" x="135"/><use href="#st" class="kG" x="165"/><use href="#st" class="kY" x="180" y="30"/><use href="#st" class="kR" x="195" y="15"/><use href="#st" class="kG" x="210"/></g>
<g transform="translate(751,0)"><use href="#n" class="kR" y="15"/><use href="#n" class="kB" x="15" y="45"/><use href="#n" class="kG" x="45"/><use href="#n" class="kG" x="75"/><use href="#n" class="kR" x="90" y="15"/><use href="#n" class="kB" x="105" y="45"/><use href="#n" class="kG" x="135"/><use href="#n" class="kG" x="165"/><use href="#n" class="kY" x="180" y="30"/><use href="#n" class="kR" x="195" y="15"/><use href="#n" class="kG" x="210"/></g>
</g>
<g id="h20"><rect class="sp" x="511" width="210" height="60"/><rect class="od" x="31" width="960" height="60"/></g>
</g>

<!-- Row 21 -->
<g id="row21" transform="translate(0,3025.3)">
<g id="m81" transform="translate(31,0)"><use href="#M"/><text class="t" y="-20">♩=111</text><text class="mn" y="-7.5">81</text><text class="g" x="239" y="77">250</text><text class="s" x="239" y="90.3">63726</text><text class="p" x="239" y="103">36.13%</text></g>
<g id="m82" transform="translate(271,0)"><use href="#M"/><text class="t" y="-20">♩=111</text><text class="mn" y="-7.5">82</text><text class="g" x="239" y="77">250</text><text class="s" x="239" y="90.3">66726</text><text class="p" x="239" y="103">23.63%</text></g>
<g id="m83" transform="translate(511,0)"><use href="#M"/><text class="mn" y="-7.5">83</text><text class="g" x="239" y="77">250</text><text class="s" x="239" y="90.3">69726</text><text class="p" x="239" y="103">11.13%</text></g>
<g id="m84" transform="translate(751,0)"><use href="#M"/><text class="t" y="-20">♩=111</text><text class="mn" y="-7.5">84</text><text class="g" x="239" y="77">225</text><text class="s" x="239" y="90.3">72426</text><text class="p" x="239" y="103">0.00%</text></g>
<g id="n21">
<g transform="translate(31,0)"><use href="#n" class="kR" y="15"/><use href="#n" class="kB" x="15" y="45"/><use href="#n" class="kG" x="45"/><use href="#n" class="kR" x="90" y="15"/><use href="#n" class="kB" x="105" y="45"/><use href="#n" class="kG" x="135"/><use href="#n" class="kG" x="165"/><use href="#n" class="kY" x="180" y="30"/><use href="#n" class="kR" x="195" y="15"/><use href="#n" class="kG" x="210"/></g>
<g transform="translate(271,0)"><use href="#n" class="kR" y="15"/><use href="#n" class="kB" x="15" y="45"/><use href="#n" class="kG" x="45"/><use href="#n" class="kR" x="90" y="15"/><use href="#n" class="kB" x="105" y="45"/><use href="#n" class="kG" x="135"/><use href="#n" class="kG" x="165"/><use href="#n" class="kY" x="180" y="30"/><use href="#n" class="kR" x="195" y="15"/><use href="#n" class="kG" x="210"/></g>
<g transform="translate(511,0)"><use href="#n" class="kR" y="15"/><use href="#n" class="kB" x="15" y="45"/><use href="#n" class="kG" x="45"/><use href="#n" class="kR" x="90" y="15"/><use href="#n" class="kB" x="105" y="45"/><use href="#n" class="kG" x="135"/><use href="#n" class="kG" x="165"/><use href="#n" class="kY" x="180" y="30"/><use href="#n" class="kR" x="195" y="15"/><use href="#n" class="kG" x="210"/></g>
<g transform="translate(751,0)"><use href="#n" class="kR" y="15"/><use href="#n" class="kB" x="15" y="45"/><use href="#n" class="kG" x="45"/><use href="#n" class="kR" x="90" y="15"/><use href="#n" class="kB" x="105" y="45"/><use href="#n" class="kG" x="135"/><use href="#n" class="kG" x="165"/><use href="#n" class="kR" x="180" y="15"/><use href="#n" class="kG" x="195"/></g>
</g>
<g id="h21"><rect class="od" x="31" width="960" height="60"/></g>
</g>

<!-- Row 22 -->
<g id="row22" transform="translate(0,3166.3)">
<g id="m85" transform="translate(31,0)"><use href="#M"/><text class="t" y="-20">♩=111</text><text class="mn" y="-7.5">85</text><text class="g" x="239" y="77">250</text><text class="s" x="239" y="90.3">75426</text><text class="p" x="239" y="103">0.00%</text></g>
<g id="m86" transform="translate(271,0)"><use href="#M"/><text class="t" y="-20">♩=111</text><text class="mn" y="-7.5">86</text><text class="g" x="239" y="77">250</text><text class="s" x="239" y="90.3">78426</text><text class="p" x="239" y="103">23.44%</text></g>
<g id="m87" transform="translate(511,0)"><use href="#M"/><text class="t" y="-20">♩=111</text><text class="mn" y="-7.5">87</text><text class="g" x="239" y="77">250</text><text class="s" x="239" y="90.3">81426</text><text class="p" x="239" y="103">10.94%</text></g>
<g id="m88" transform="translate(751,0)"><use href="#M"/><text class="t" y="-20">♩=111</text><text class="mn" y="-7.5">88</text><text class="g" x="239" y="77">325</text><text class="s" x="239" y="90.3">85326</text><text class="p" x="239" y="103">0.00%</text></g>
<g id="n22">
<g transform="translate(31,0)"><use href="#n" class="kR" y="15"/><use href="#n" class="kB" x="15" y="45"/><use href="#n" class="kG" x="45"/><use href="#n" class="kR" x="90" y="15"/><use href="#n" class="kB" x="105" y="45"/><use href="#n" class="kG" x="135"/><use href="#n" class="kG" x="165"/><use href="#n" class="kY" x="180" y="30"/><use href="#n" class="kR" x="195" y="15"/><use href="#n" class="kG" x="210"/></g>
<g transform="translate(271,0)"><use href="#st" class="kR" y="15"/><use href="#st" class="kB" x="15" y="45"/><use href="#st" class="kG" x="45"/><use href="#st" class="kR" x="90" y="15"/><use href="#st" class="kB" x="105" y="45"/><use href="#st" class="kG" x="135"/><use href="#st" class="kG" x="165"/><use href="#st" class="kY" x="180" y="30"/><use href="#st" class="kR" x="195" y="15"/><use href="#st" class="kG" x="210"/></g>
<g transform="translate(511,0)"><use href="#n" class="kR" y="15"/><use href="#n" class="kB" x="15" y="45"/><use href="#n" class="kG" x="45"/><use href="#n" class="kR" x="90" y="15"/><use href="#n" class="kB" x="105" y="45"/><use href="#n" class="kG" x="135"/><use href="#n" class="kG" x="165"/><use href="#n" class="kY" x="180" y="30"/><use href="#n" class="kR" x="195" y="15"/><use href="#n" class="kG" x="210"/></g>
<g transform="translate(751,0)"><use href="#n" class="kR" y="15"/><use href="#n" class="kB" x="15" y="45"/><use href="#n" class="kG" x="45"/><use href="#n" class="kR" x="90" y="15"/><use href="#n" class="kB" x="105" y="45"/><use href="#n" class="kB" x="120" y="45"/><use href="#n" class="kB" x="135" y="45"/><use href="#n" class="kB" x="150" y="45"/><use href="#n" class="kB" x="165" y="45"/><use href="#n" class="kB" x="180" y="45"/><use href="#n" class="kB" x="195" y="45"/><use href="#n" class="kB" x="210" y="45"/><use href="#n" class="kB" x="225" y="45"/></g>
</g>
<g id="h22"><rect class="sp" x="271" width="210" height="60"/><rect class="od" x="31" width="934" height="60"/><rect class="pk" x="965" width="10" height="60"/></g>
</g>

<!-- Row 23 -->
<g id="row23" transform="translate(0,3307.3)">
<g id="m89" transform="translate(31,0)"><use href="#M"/><text class="t" y="-20">♩=111</text><text class="mn" y="-7.5">89</text><text class="g" x="239" y="77">0</text><text class="s" x="239" y="90.3">85326</text><text class="p" x="239" y="103">0.00%</text></g>
<g id="m90" transform="translate(271,0)"><use href="#M"/><text class="t" y="-20">♩=111</text><text class="mn" y="-7.5">90</text><text class="g" x="239" y="77">89</text><text class="s" x="239" y="90.3">85860</text><text class="p" x="239" y="103">0.00%</text></g>
<g id="m91" transform="translate(511,0)"><use href="#M"/><text class="t" y="-20">♩=111</text><text class="mn" y="-7.5">91</text><text class="g" x="239" y="77">70</text><text class="s" x="239" y="90.3">86280</text><text class="p" x="239" y="103">0.00%</text></g>
<g id="m92" transform="translate(751,0)"><use href="#M"/><text class="t" y="-20">♩=111</text><text class="mn" y="-7.5">92</text><text class="g" x="239" y="77">124</text><text class="s" x="239" y="90.3">87024</text><text class="p" x="239" y="103">0.00%</text></g>
<g id="n23">
<g transform="translate(271,0)"><rect class="kG" y="-3.3" width="195" height="6.6"/><use href="#n" class="kG"/><use href="#n" class="kY" x="210" y="30"/></g>
<g transform="translate(511,0)"><rect class="kB" y="41.7" width="224.4" height="6.6"/><use href="#n" class="kB" y="45"/></g>
<g transform="translate(751,0)"><rect class="kO" x="90" y="56.7" width="120" height="6.6"/><use href="#n" class="kO" y="60"/><use href="#n" class="kG" x="45"/><use href="#n" class="kO" x="90" y="60"/><use href="#n" class="kO" x="225" y="60"/></g>
</g>
</g>

<!-- Row 24 -->
<g id="row24" transform="translate(0,3448.3)">
<g id="m93" transform="translate(31,0)"><use href="#M"/><text class="t" y="-20">♩=111</text><text class="mn" y="-7.5">93</text><text class="g" x="239" y="77">149</text><text class="s" x="239" y="90.3">87918</text><text class="p" x="239" y="103">0.00%</text></g>
<g id="m94" transform="translate(271,0)"><use href="#M"/><text class="t" y="-20">♩=111</text><text class="mn" y="-7.5">94</text><text class="g" x="239" y="77">140</text><text class="s" x="239" y="90.3">88758</text><text class="p" x="239" y="103">0.00%</text></g>
<g id="m95" transform="translate(511,0)"><use href="#M"/><text class="t" y="-20">♩=111</text><text class="mn" y="-7.5">95</text><text class="g" x="239" y="77">159</text><text class="s" x="239" y="90.3">89712</text><text class="p" x="239" y="103">27.55%</text></g>
<g id="m96" transform="translate(751,0)"><use href="#M"/><text class="t" y="-20">♩=111</text><text class="mn" y="-7.5">96</text><text class="g" x="239" y="77">124</text><text class="s" x="239" y="90.3">90456</text><text class="p" x="239" y="103">27.55%</text></g>
<g id="n24">
<g transform="translate(31,0)"><rect class="kO" x="90" y="56.7" width="74.4" height="6.6"/><rect class="kB" x="180" y="41.7" width="44.4" height="6.6"/><use href="#n" class="kO" y="60"/><use href="#n" class="kG" x="45"/><use href="#n" class="kG" x="75"/><use href="#n" class="kO" x="90" y="60"/><use href="#n" class="kB" x="180" y="45"/></g>
<g transform="translate(271,0)"><rect class="kR" x="90" y="11.7" width="75" height="6.6"/><use href="#n" class="kR" y="15"/><use href="#n" class="kR" x="45" y="15"/><use href="#n" class="kR" x="90" y="15"/><use href="#n" class="kR" x="180" y="15"/><use href="#n" class="kB" x="195" y="45"/></g>
<g transform="translate(511,0)"><rect class="kG" x="90" y="-3.3" width="44.4" height="6.6"/><use href="#st" class="kG"/><use href="#st" class="kG" x="45"/><use href="#st" class="kG" x="90"/><use href="#st" class="kG" x="150"/><use href="#st" class="kG" x="210"/><use href="#st" class="kY" x="225" y="30"/></g>
<g transform="translate(751,0)"><rect class="kB" x="90" y="41.7" width="75" height="6.6"/><rect class="kB" x="180" y="41.7" width="44.4" height="6.6"/><use href="#n" class="kB" y="45"/><use href="#n" class="kB" x="45" y="45"/><use href="#n" class="kB" x="90" y="45"/><use href="#n" class="kB" x="180" y="45"/></g>
</g>
<g id="h24"><rect class="sp" x="511" width="224.4" height="60"/></g>
</g>

<!-- Row 25 -->
<g id="row25" transform="translate(0,3589.3)">
<g id="m97" transform="translate(31,0)"><use href="#M"/><text class="t" y="-20">♩=111</text><text class="mn" y="-7.5">97</text><text class="g" x="239" y="77">111</text><text class="s" x="239" y="90.3">91122</text><text class="p" x="239" y="103">27.55%</text></g>
<g id="m98" transform="translate(271,0)"><use href="#M"/><text class="t" y="-20">♩=111</text><text class="mn" y="-7.5">98</text><text class="g" x="239" y="77">159</text><text class="s" x="239" y="90.3">92076</text><text class="p" x="239" y="103">27.55%</text></g>
<g id="m99" transform="translate(511,0)"><use href="#M"/><text class="t" y="-20">♩=111</text><text class="mn" y="-7.5">99</text><text class="g" x="239" y="77">209</text><text class="s" x="239" y="90.3">93330</text><text class="p" x="239" y="103">27.55%</text></g>
<g id="m100" transform="translate(751,0)"><use href="#M"/><text class="t" y="-20">♩=111</text><text class="mn" y="-7.5">100</text><text class="g" x="239" y="77">159</text><text class="s" x="239" y="90.3">94284</text><text class="p" x="239" y="103">27.55%</text></g>
<g id="n25">
<g transform="translate(31,0)"><rect class="kB" y="41.7" width="74" height="6.6"/><rect class="kY" x="120" y="26.7" width="104.4" height="6.6"/><use href="#n" class="kB" y="45"/><use href="#n" class="kG" x="90"/><use href="#n" class="kY" x="120" y="30"/></g>
<g transform="translate(271,0)"><rect class="kO" x="90" y="56.7" width="45" height="6.6"/><use href="#n" class="kO" y="60"/><use href="#n" class="kG" x="45"/><use href="#n" class="kO" x="90" y="60"/><use href="#n" class="kG" x="150"/><use href="#n" class="kO" x="180" y="60"/><use href="#n" class="kB" x="210" y="45"/></g>
<g transform="translate(511,0)"><rect class="kR" x="90" y="11.7" width="44.4" height="6.6"/><use href="#n" class="kR" y="15"/><use href="#n" class="kR" x="45" y="15"/><use href="#n" class="kR" x="90" y="15"/><use href="#n" class="kR" x="150" y="15"/><use href="#n" class="kR" x="165" y="15"/><use href="#n" class="kR" x="180" y="15"/><use href="#n" class="kY" x="195" y="30"/><use href="#n" class="kO" x="210" y="60"/></g>
<g transform="translate(751,0)"><rect class="kG" x="90" y="-3.3" width="45" height="6.6"/><use href="#n" class="kG"/><use href="#n" class="kG" x="45"/><use href="#n" class="kG" x="90"/><use href="#n" class="kG" x="150"/><use href="#n" class="kG" x="180"/><use href="#n" class="kY" x="210" y="30"/></g>
</g>
</g>

<!-- Row 26 -->
<g id="row26" transform="translate(0,3730.3)">
<g id="m101" transform="translate(31,0)"><use href="#M"/><text class="t" y="-20">♩=111</text><text class="mn" y="-7.5">101</text><text class="g" x="239" y="77">184</text><text class="s" x="239" y="90.3">95388</text><text class="p" x="239" y="103">27.55%</text></g>
<g id="m102" transform="translate(271,0)"><use href="#M"/><text class="t" y="-20">♩=111</text><text class="mn" y="-7.5">102</text><text class="g" x="239" y="77">140</text><text class="s" x="239" y="90.3">96228</text><text class="p" x="239" y="103">27.55%</text></g>
<g id="m103" transform="translate(511,0)"><use href="#M"/><text class="t" y="-20">♩=111</text><text class="mn" y="-7.5">103</text><text class="g" x="239" y="77">124</text><text class="s" x="239" y="90.3">96972</text><text class="p" x="239" y="103">59.35%</text></g>
<g id="m104" transform="translate(751,0)"><use href="#M"/><text class="t" y="-20">♩=111</text><text class="mn" y="-7.5">104</text><text class="g" x="239" y="77">124</text><text class="s" x="239" y="90.3">97716</text><text class="p" x="239" y="103">59.35%</text></g>
<g id="n26">
<g transform="translate(31,0)"><rect class="kB" x="90" y="41.7" width="44.4" height="6.6"/><use href="#n" class="kB" y="45"/><use href="#n" class="kB" x="45" y="45"/><use href="#n" class="kG" x="75"/><use href="#n" class="kB" x="90" y="45"/><use href="#n" class="kB" x="150" y="45"/><use href="#n" class="kB" x="180" y="45"/><use href="#n" class="kY" x="210" y="30"/></g>
<g transform="translate(271,0)"><rect class="kR" x="90" y="11.7" width="75" height="6.6"/><use href="#n" class="kR" y="15"/><use href="#n" class="kR" x="45" y="15"/><use href="#n" class="kR" x="90" y="15"/><use href="#n" class="kR" x="180" y="15"/><use href="#n" class="kY" x="210" y="30"/></g>
<g transform="translate(511,0)"><rect class="kB" x="90" y="41.7" width="74.4" height="6.6"/><rect class="kB" x="180" y="41.7" width="44.4" height="6.6"/><use href="#st" class="kB" y="45"/><use href="#st" class="kB" x="45" y="45"/><use href="#st" class="kB" x="90" y="45"/><use href="#st" class="kB" x="180" y="45"/></g>
<g transform="translate(751,0)"><rect class="kO" x="90" y="56.7" width="120" height="6.6"/><use href="#n" class="kO" y="60"/><use href="#n" class="kG" x="45"/><use href="#n" class="kO" x="90" y="60"/><use href="#n" class="kO" x="225" y="60"/></g>
</g>
<g id="h26"><rect class="sp" x="511" width="224.4" height="60"/></g>
</g>

<!-- Row 27 -->
<g id="row27" transform="translate(0,3871.3)">
<g id="m105" transform="translate(31,0)"><use href="#M"/><text class="t" y="-20">♩=111</text><text class="mn" y="-7.5">105</text><text class="g" x="239" y="77">149</text><text class="s" x="239" y="90.3">98328</text><text class="p" x="239" y="103">59.35%</text></g>
<g id="m106" transform="translate(271,0)"><use href="#M"/><text class="t" y="-20">♩=111</text><text class="mn" y="-7.5">106</text><text class="g" x="239" y="77">168</text><text class="s" x="239" y="90.3">100158</text><text class="p" x="239" y="103">49.57%</text></g>
<g id="m107" transform="translate(511,0)"><use href="#M"/><text class="t" y="-20">♩=111</text><text class="mn" y="-7.5">107</text><text class="g" x="239" y="77">149</text><text class="s" x="239" y="90.3">101546</text><text class="p" x="239" y="103">37.07%</text></g>
<g id="m108" transform="translate(751,0)"><use href="#M"/><text class="t" y="-20">♩=111</text><text class="mn" y="-7.5">108</text><text class="g" x="239" y="77">149</text><text class="s" x="239" y="90.3">103134</text><text class="p" x="239" y="103">24.57%</text></g>
<g id="n27">
<g transform="translate(31,0)"><rect class="kO" y="56.7" width="74" height="6.6"/><rect class="kO" x="90" y="56.7" width="44.4" height="6.6"/><use href="#n" class="kO" y="60"/><use href="#n" class="kO" x="90" y="60"/><use href="#n" class="kO" x="150" y="60"/><use href="#n" class="kO" x="180" y="60"/><use href="#n" class="kO" x="210" y="60"/></g>
<g transform="translate(271,0)"><rect class="kR" y="11.7" width="44.4" height="6.6"/><rect class="kR" x="90" y="11.7" width="44.4" height="6.6"/><use href="#n" class="kR" y="15"/><use href="#n" class="kR" x="60" y="15"/><use href="#n" class="kR" x="90" y="15"/><use href="#n" class="kR" x="150" y="15"/><use href="#n" class="kR" x="180" y="15"/><use href="#n" class="kR" x="210" y="15"/></g>
<g transform="translate(511,0)"><rect class="kG" y="-3.3" width="75" height="6.6"/><rect class="kG" x="90" y="-3.3" width="45" height="6.6"/><use href="#n" class="kG"/><use href="#n" class="kG" x="90"/><use href="#n" class="kG" x="150"/><use href="#n" class="kG" x="180"/><use href="#n" class="kG" x="210"/></g>
<g transform="translate(751,0)"><rect class="kB" y="41.7" width="74" height="6.6"/><rect class="kB" x="90" y="41.7" width="44.4" height="6.6"/><use href="#n" class="kB" y="45"/><use href="#n" class="kB" x="90" y="45"/><use href="#n" class="kB" x="150" y="45"/><use href="#n" class="kB" x="180" y="45"/><use href="#n" class="kB" x="210" y="45"/></g>
</g>
<g id="h27"><rect class="pk" x="318" width="8" height="60"/><rect class="od" x="326" width="665" height="60"/></g>
</g>

<!-- Row 28 -->
<g id="row28" transform="translate(0,4012.3)">
<g id="m109" transform="translate(31,0)"><use href="#M"/><text class="t" y="-20">♩=111</text><text class="mn" y="-7.5">109</text><text class="g" x="239" y="77">149</text><text class="s" x="239" y="90.3">104356</text><text class="p" x="239" y="103">11.87%</text></g>
<g id="m110" transform="translate(271,0)"><use href="#M"/><text class="t" y="-20">♩=111</text><text class="mn" y="-7.5">110</text><text class="g" x="239" y="77">168</text><text class="s" x="239" y="90.3">106039</text><text class="p" x="239" y="103">0.00%</text></g>
<g id="m111" transform="translate(511,0)"><use href="#M"/><text class="t" y="-20">♩=111</text><text class="mn" y="-7.5">111</text><text class="g" x="239" y="77">70</text><text class="s" x="239" y="90.3">107328</text><text class="p" x="239" y="103">0.00%</text></g>
<g id="n28">
<g transform="translate(31,0)"><rect class="kO" y="56.7" width="74" height="6.6"/><rect class="kO" x="90" y="56.7" width="44.4" height="6.6"/><use href="#n" class="kO" y="60"/><use href="#n" class="kO" x="90" y="60"/><use href="#n" class="kO" x="150" y="60"/><use href="#n" class="kO" x="180" y="60"/><use href="#n" class="kO" x="210" y="60"/></g>
<g transform="translate(271,0)"><rect class="kB" y="41.7" width="45" height="6.6"/><rect class="kB" x="90" y="41.7" width="45" height="6.6"/><use href="#n" class="kB" y="45"/><use href="#n" class="kB" x="60" y="45"/><use href="#n" class="kB" x="90" y="45"/><use href="#n" class="kB" x="150" y="45"/><use href="#n" class="kB" x="180" y="45"/><use href="#n" class="kB" x="210" y="45"/></g>
<g transform="translate(511,0)"><rect class="kR" y="11.7" width="224.4" height="6.6"/><use href="#n" class="kR" y="15"/></g>
</g>
<g id="h28"><rect class="od" x="31" width="466" height="60"/><rect class="pk" x="497" width="8" height="60"/></g>
</g>
</g>
</svg>
